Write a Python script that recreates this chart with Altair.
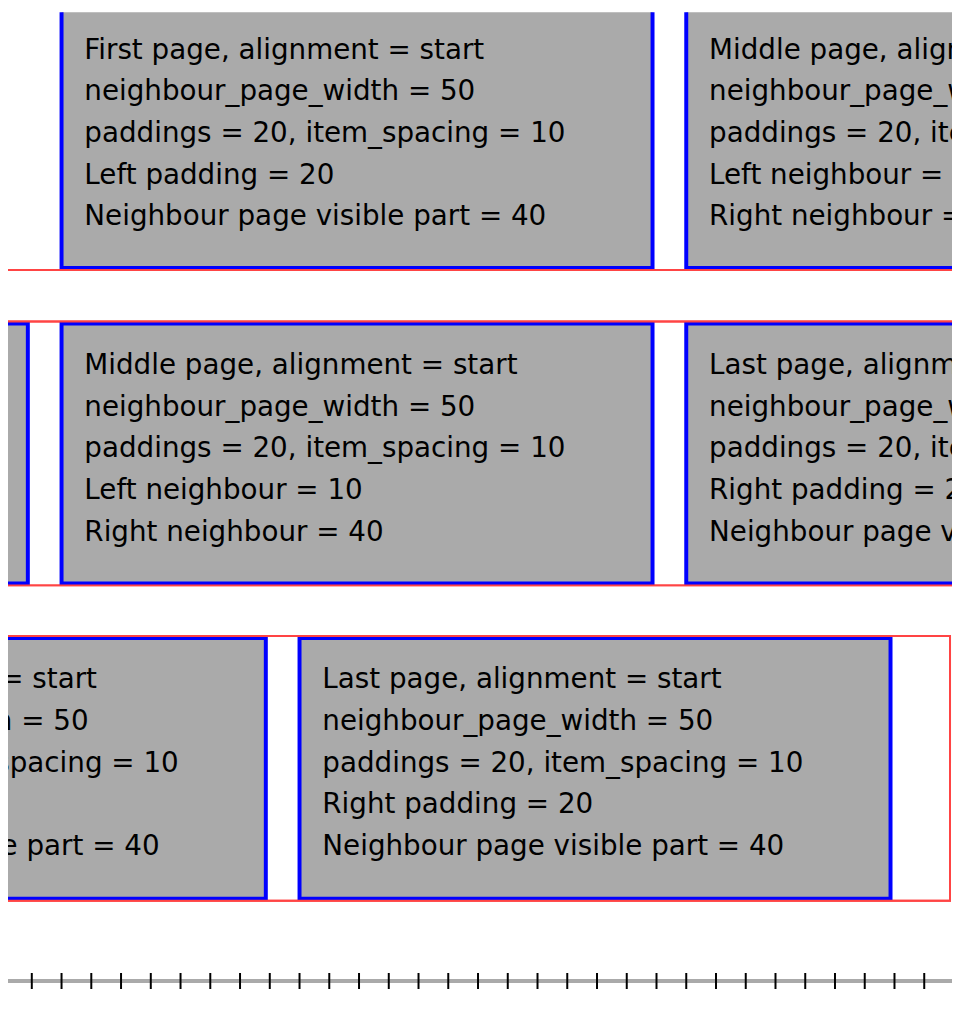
import altair as alt
import pandas as pd

# rows of the pager screenshot: red container frames
frame_top = [2, 320, 637]
frame_bottom = [268, 586, 904]
frame_left = [0, 0, 0]
frame_right = [962, 962, 958]

# pages (blue outlined, gray filled): row index, left, right
page_row = [0, 0, 1, 1, 1, 2, 2]
page_left = [62, 692, -568, 62, 692, -328, 302]
page_right = [658, 1288, 28, 658, 1288, 268, 898]

first_text = ["First page, alignment = start", "neighbour_page_width = 50",
              "paddings = 20, item_spacing = 10", "Left padding = 20",
              "Neighbour page visible part = 40"]
middle_text = ["Middle page, alignment = start", "neighbour_page_width = 50",
               "paddings = 20, item_spacing = 10", "Left neighbour = 10",
               "Right neighbour = 40"]
last_text = ["Last page, alignment = start", "neighbour_page_width = 50",
             "paddings = 20, item_spacing = 10", "Right padding = 20",
             "Neighbour page visible part = 40"]
page_texts = [first_text, middle_text, middle_text, middle_text, last_text, last_text, last_text]

ruler_ticks = list(range(32, 960, 30))

xs = alt.Scale(domain=[8, 960], nice=False, zero=False)
ys = alt.Scale(domain=[8, 1014], nice=False, zero=False, reverse=True)

frames = pd.DataFrame({"x": frame_left, "x2": frame_right, "y": frame_top, "y2": frame_bottom})
pages = pd.DataFrame({
    "x": page_left, "x2": page_right,
    "y": [frame_top[r] + 2 for r in page_row],
    "y2": [frame_bottom[r] - 2 for r in page_row],
})
rows = []
for i, lines in enumerate(page_texts):
    for j, t in enumerate(lines):
        rows.append({"x": page_left[i] + 23, "y": frame_top[page_row[i]] + 45 + 42 * j, "t": t})
texts = pd.DataFrame(rows)
ticks = pd.DataFrame({"x": ruler_ticks})

page_layer = alt.Chart(pages).mark_rect(fill="#aaaaaa", stroke="#0000ff", strokeWidth=4, clip=True).encode(
    x=alt.X("x:Q", scale=xs, axis=None), x2="x2", y=alt.Y("y:Q", scale=ys, axis=None), y2="y2")
frame_layer = alt.Chart(frames).mark_rect(fill=None, stroke="#ff4444", strokeWidth=2, clip=True).encode(
    x=alt.X("x:Q", scale=xs, axis=None), x2="x2", y=alt.Y("y:Q", scale=ys, axis=None), y2="y2")
text_layer = alt.Chart(texts).mark_text(
    align="left", baseline="middle", font="DejaVu Sans", fontSize=28, color="black", clip=True).encode(
    x=alt.X("x:Q", scale=xs, axis=None), y=alt.Y("y:Q", scale=ys, axis=None), text="t:N")
ruler = alt.Chart(pd.DataFrame({"x": [2], "x2": [960], "y": [985]})).mark_rule(
    color="#aaaaaa", strokeWidth=4, strokeCap="round", clip=True).encode(
    x=alt.X("x:Q", scale=xs, axis=None), x2="x2", y=alt.Y("y:Q", scale=ys, axis=None))
tick_layer = alt.Chart(ticks).mark_rule(color="black", strokeWidth=2, clip=True).encode(
    x=alt.X("x:Q", scale=xs, axis=None), y=alt.value(969), y2=alt.value(985))

chart = alt.layer(frame_layer, page_layer, frame_layer, text_layer, ruler, tick_layer).properties(
    width=952, height=1006, padding=0, autosize=alt.AutoSizeParams(type="none")
).configure_view(stroke=None)

chart.save("out.html", embed_options={"renderer": "svg", "actions": False})
